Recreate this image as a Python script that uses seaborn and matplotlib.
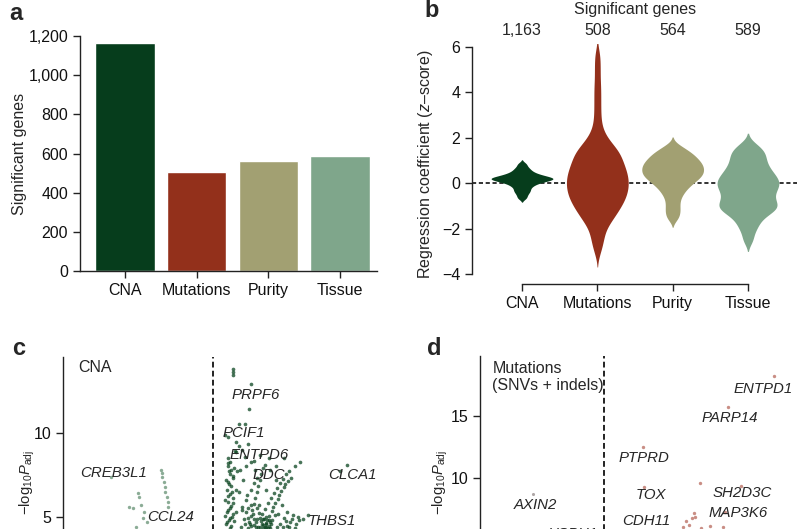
import numpy as np
import pandas as pd
import matplotlib
matplotlib.use("Agg")
import matplotlib.pyplot as plt
from matplotlib import transforms
import seaborn as sns

# ---------------- data ----------------
categories = ["CNA", "Mutations", "Purity", "Tissue"]
significant_genes = [1163, 508, 564, 589]
count_labels = ["1,163", "508", "564", "589"]
colors = ["#063D1C", "#93301B", "#A2A072", "#7FA68B"]

cna_z = [-0.65, -0.5, -0.38, -0.3, -0.2, -0.12, -0.06, 0.0, 0.04, 0.08, 0.11, 0.14,
         0.16, 0.18, 0.2, 0.22, 0.24, 0.26, 0.29, 0.32, 0.36, 0.4, 0.45, 0.52, 0.6,
         0.7, 0.85]
mut_z = [-2.95, -2.6, -2.35, -2.1, -1.85, -1.72, -1.62, -1.5, -1.4, -1.3,
         -1.22, -1.15, -1.08, -1.0, -0.93, -0.86, -0.78,
         -0.73, -0.68, -0.62, -0.56, -0.5, -0.44, -0.38, -0.32, -0.27,
         -0.22, -0.17, -0.11, -0.06, 0.0, 0.06, 0.11, 0.17, 0.22,
         0.27, 0.32, 0.38, 0.44, 0.5, 0.56, 0.62, 0.68, 0.73,
         0.78, 0.86, 0.93, 1.0, 1.08, 1.15, 1.22, 1.28,
         1.34, 1.42, 1.5, 1.58, 1.68, 1.8, 1.95, 2.15,
         2.45, 2.9, 3.4, 3.9, 4.4, 5.0, 5.6]
pur_z = [1.65, 1.5, 1.4, 1.32, 1.25, 1.18, 1.11, 1.05, 0.99, 0.94, 0.88, 0.83, 0.78,
         0.73, 0.68, 0.63, 0.58, 0.53, 0.48, 0.43, 0.38, 0.33, 0.28, 0.22, 0.16, 0.1,
         0.03, -0.05, -0.14, -0.24, -0.36, -0.5, -0.68, -0.9, -1.12, -1.32, -1.55]
tis_z = [1.7, 1.52, 1.38, 1.26, 1.14, 1.0, 0.88, 0.76, 0.65, 0.55, 0.46, 0.37, 0.29,
         0.21, 0.14, 0.07, 0.0, -0.07, -0.14, -0.21, -0.29, -0.37, -0.46, -0.55,
         -0.64, -0.73, -0.82, -0.9, -0.97, -1.04, -1.1, -1.17, -1.25, -1.35, -1.48,
         -1.65, -1.85, -2.1, -2.5]

# panel c: CNA volcano (coefficient, -log10 Padj)
c_neg_x = [-1.36, -0.69, -0.68, -0.67, -0.65, -0.64, -0.63, -0.61, -0.60, -0.59,
           -1.00, -0.99, -1.12, -1.07, -0.96, -0.92, -0.93, -1.03, -0.88]
c_neg_y = [7.38, 7.80, 7.62, 7.38, 7.08, 6.79, 6.49, 6.19, 5.89, 5.60,
           6.43, 6.19, 5.60, 5.54, 5.71, 5.30, 4.94, 4.40, 4.70]
c_pos_x = [0.21, 0.24, 0.20, 0.25, 0.23, 0.28, 0.21, 0.25, 0.19, 0.24, 0.28, 0.21,
           0.25, 0.20, 0.27, 0.23, 0.19, 0.25, 0.29, 0.31, 0.16, 0.32,
           0.37, 0.41, 0.36, 0.45, 0.40, 0.48, 0.43, 0.51,
           0.47, 0.49, 0.52, 0.53, 0.56, 0.57, 0.60, 0.61, 0.64, 0.65, 0.67, 0.51, 0.55,
           0.67, 0.71, 0.73, 0.76, 0.79, 0.81, 0.84, 0.87, 0.89, 0.92, 0.95, 0.97, 1.01,
           1.05, 0.72, 0.77, 0.83,
           0.63, 0.65, 0.68, 0.69, 0.75, 0.77, 0.61, 0.80,
           0.96, 1.04, 1.12, 1.16, 1.00, 1.08, 0.72, 0.77, 0.57, 0.85, 0.93, 0.43, 0.51,
           0.32, 0.36, 0.47, 0.32, 0.64, 0.75,
           0.27, 0.27, 0.28, 0.52, 0.49, 0.35, 0.43, 0.17, 0.21, 1.17, 0.95, 1.71, 1.80,
           1.21, 1.27,
           0.18, 0.22, 0.26, 0.19, 0.23, 0.27, 0.20, 0.26, 0.22, 0.18, 0.27, 0.22, 0.20,
           0.24, 0.29, 0.17,
           0.38, 0.42, 0.45, 0.39, 0.47, 0.50, 0.55, 0.58, 0.54, 0.59, 0.62, 0.46, 0.52,
           0.56, 0.60, 0.58, 0.60, 0.62,
           0.64, 0.66, 0.70, 0.72, 0.74, 0.78, 0.67, 0.71, 0.76, 0.66, 0.70, 0.74, 0.78,
           0.82, 0.86, 0.90, 0.94, 0.98, 1.02,
           0.86, 0.90, 0.94, 0.98, 1.02, 1.06, 1.10, 1.14, 0.88, 1.00,
           0.30, 0.40, 0.55, 0.70, 0.85, 1.10, 0.45, 0.33]
c_pos_y = [8.51, 8.27, 8.04, 7.80, 7.56, 7.32, 7.08, 6.85, 6.61, 6.37, 6.13, 5.89,
           5.65, 5.42, 5.18, 4.94, 4.70, 4.46, 7.92, 6.61, 6.01, 5.30,
           7.80, 7.20, 6.49, 6.01, 5.42, 4.94, 4.58, 5.71,
           4.35, 4.70, 5.06, 5.42, 5.77, 6.13, 6.49, 6.85, 7.20, 7.56, 7.92, 4.46, 4.88,
           4.35, 4.58, 4.82, 5.06, 5.36, 5.60, 5.83, 6.07, 6.31, 6.55, 6.79, 6.96, 7.14,
           7.32, 4.40, 4.70, 5.12,
           4.94, 4.76, 4.52, 4.88, 4.46, 4.35, 4.40, 4.82,
           4.94, 4.70, 4.58, 4.82, 4.46, 5.12, 6.61, 7.80, 7.80, 7.20, 5.71, 8.57, 8.27,
           8.87, 9.23, 9.35, 9.46, 8.69, 8.51,
           13.81, 13.63, 13.45, 12.92, 11.43, 10.54, 10.54, 9.88, 9.76, 8.27, 8.51, 7.74,
           8.10, 4.88, 5.12,
           4.60, 4.80, 5.00, 5.30, 5.55, 5.80, 6.25, 6.50, 6.95, 7.20, 7.45, 7.70, 8.20,
           4.35, 4.75, 5.05,
           4.40, 4.90, 5.30, 5.60, 5.50, 4.60, 4.50, 4.70, 5.20, 5.50, 5.70, 6.30, 6.60,
           7.00, 7.30, 4.40, 4.90, 5.25,
           4.40, 4.60, 4.40, 4.65, 4.35, 4.55, 4.90, 5.00, 4.80, 5.20, 5.45, 5.80, 6.10,
           6.40, 6.70, 7.00, 7.25, 7.55, 7.70,
           4.40, 4.60, 4.40, 4.75, 4.40, 4.90, 4.35, 5.00, 5.20, 5.30,
           8.90, 9.00, 8.30, 8.10, 8.00, 8.00, 8.00, 7.70]
c_genes = ["CREB3L1", "CCL24", "PRPF6", "PCIF1", "ENTPD6", "DDC", "CLCA1", "THBS1"]
c_gene_x = [-1.77, -0.87, 0.25, 0.13, 0.23, 0.53, 1.55, 1.27]
c_gene_y = [7.62, 5.0, 12.26, 10.0, 8.69, 7.5, 7.5, 4.76]

# panel d: Mutations volcano
d_neg_x = [-0.95]
d_neg_y = [8.71]
d_pos_x = [2.25, 1.64, 0.51, 0.53, 1.27, 1.81, 1.60, 1.19, 1.16, 1.08, 1.12, 1.28,
           1.04, 1.21, 1.41, 1.57]
d_pos_y = [18.23, 15.73, 12.50, 9.27, 9.60, 9.35, 7.26, 7.18, 6.77, 6.53, 6.21, 5.97,
           6.05, 6.85, 6.13, 6.05]
d_genes = ["ENTPD1", "PARP14", "PTPRD", "TOX", "SH2D3C", "MAP3K6", "CDH11", "AXIN2", "HSPH1"]
d_gene_x = [1.71, 1.29, 0.19, 0.41, 1.44, 1.39, 0.23, -1.20, -0.75]
d_gene_y = [17.18, 14.84, 11.61, 8.63, 8.79, 7.18, 6.53, 7.82, 5.48]

# ---------------- style ----------------
sns.set_style("ticks")
plt.rcParams["font.family"] = ["Liberation Sans", "DejaVu Sans"]
plt.rcParams["mathtext.fontset"] = "custom"
plt.rcParams["mathtext.rm"] = "Liberation Sans"
plt.rcParams["mathtext.it"] = "Liberation Sans:italic"
plt.rcParams["mathtext.bf"] = "Liberation Sans:bold"
FS = 11.5
GFS = 10.8
LFS = 10.6

fig = plt.figure(figsize=(8.0, 5.29), dpi=100)

def style_axes(ax):
    sns.despine(ax=ax)
    for s in ("left", "bottom"):
        ax.spines[s].set_linewidth(1.0)
        ax.spines[s].set_color("#222222")
    ax.tick_params(direction="out", length=5, width=1.0, labelsize=FS, colors="#222222",
                   labelcolor="#111111")

# ---------------- panel a ----------------
ax_a = fig.add_axes([0.1, 0.4877, 0.37125, 0.4442])
df_a = pd.DataFrame({"cat": categories, "n": significant_genes})
sns.barplot(data=df_a, x="cat", y="n", hue="cat", palette=colors, saturation=1,
            width=0.83, legend=False, ax=ax_a)
ax_a.set_xlim(-0.628, 3.516)
ax_a.set_ylim(0, 1200)
ax_a.set_yticks([0, 200, 400, 600, 800, 1000, 1200])
ax_a.set_yticklabels(["0", "200", "400", "600", "800", "1,000", "1,200"])
ax_a.set_xlabel("")
ax_a.set_ylabel("Significant genes", fontsize=FS)
ax_a.yaxis.set_label_coords(-0.178, 0.5)
style_axes(ax_a)

# ---------------- panel b ----------------
ax_b = fig.add_axes([0.59, 0.4631, 0.40625, 0.4544])
df_b = pd.DataFrame({
    "cat": (["CNA"] * len(cna_z) + ["Mutations"] * len(mut_z)
            + ["Purity"] * len(pur_z) + ["Tissue"] * len(tis_z)),
    "z": cna_z + mut_z + pur_z + tis_z,
})
ax_b.axhline(0, color="#111111", lw=1.2, ls=(0, (2.5, 1.6)), zorder=0)
sns.violinplot(data=df_b, x="cat", y="z", hue="cat", order=categories,
               hue_order=categories, palette=colors, saturation=1, inner=None, cut=2,
               density_norm="width", width=0.82, linewidth=0, bw_adjust=0.5,
               gridsize=300, legend=False, ax=ax_b)
for coll in ax_b.collections:
    coll.set_zorder(2)
ax_b.set_xlim(-0.664, 3.651)
ax_b.set_ylim(-4.44, 6.15)
ax_b.set_yticks([-4, -2, 0, 2, 4, 6])
ax_b.set_yticklabels(["\u22124", "\u22122", "0", "2", "4", "6"])
ax_b.set_xlabel("")
ax_b.set_ylabel("Regression coefficient ($z$\u2013score)", fontsize=FS)
ax_b.yaxis.set_label_coords(-0.114, 0.5)
style_axes(ax_b)
ax_b.spines["left"].set_bounds(-4, 6)
ax_b.spines["bottom"].set_bounds(0, 3)
trans_b = transforms.blended_transform_factory(ax_b.transData, ax_b.transAxes)
for i, lab in enumerate(count_labels):
    ax_b.text(i, 1.055, lab, transform=trans_b, ha="center", va="center", fontsize=FS)
ax_b.text(1.5, 1.142, "Significant genes", transform=trans_b, ha="center",
          va="center", fontsize=FS)

# ---------------- panel c ----------------
ax_c = fig.add_axes([0.07875, -0.1361, 0.415, 0.4612])
ax_c.axvline(0, color="#111111", lw=1.3, ls=(0, (3.2, 1.8)), zorder=0)
sns.scatterplot(x=c_neg_x, y=c_neg_y, color="#6E977C", s=6, alpha=0.8,
                linewidth=0, ax=ax_c)
sns.scatterplot(x=c_pos_x, y=c_pos_y, color="#0B4520", s=7, alpha=0.75,
                linewidth=0, ax=ax_c)
ax_c.set_xlim(-2.0, 2.44)
ax_c.set_ylim(0, 14.5)
ax_c.set_yticks([5, 10])
ax_c.set_xticks([])
ax_c.set_ylabel(r"$\mathrm{-log}_{10}P_{\mathrm{adj}}$", fontsize=LFS)
ax_c.yaxis.set_label_coords(-0.078, 0.488)
style_axes(ax_c)
ax_c.spines["bottom"].set_visible(False)
ax_c.text(-1.79, 13.87, "CNA", ha="left", va="center", fontsize=FS)
for g, gx, gy in zip(c_genes, c_gene_x, c_gene_y):
    ax_c.text(gx, gy, g, ha="left", va="center", fontsize=GFS, style="italic")

# ---------------- panel d ----------------
ax_d = fig.add_axes([0.6, -0.138, 0.39625, 0.465])
ax_d.axvline(0, color="#111111", lw=1.3, ls=(0, (3.2, 1.8)), zorder=0)
sns.scatterplot(x=d_neg_x, y=d_neg_y, color="#9A9090", s=5, alpha=0.8,
                linewidth=0, ax=ax_d)
sns.scatterplot(x=d_pos_x, y=d_pos_y, color="#B8685C", s=6, alpha=0.75,
                linewidth=0, ax=ax_d)
ax_d.set_xlim(-1.653, 2.56)
ax_d.set_ylim(0, 19.84)
ax_d.set_yticks([10, 15])
ax_d.set_xticks([])
ax_d.set_ylabel(r"$\mathrm{-log}_{10}P_{\mathrm{adj}}$", fontsize=LFS)
ax_d.yaxis.set_label_coords(-0.095, 0.485)
style_axes(ax_d)
ax_d.spines["bottom"].set_visible(False)
ax_d.text(-1.49, 18.15, "Mutations\n(SNVs + indels)", ha="left", va="center",
          fontsize=FS, linespacing=1.15)
for g, gx, gy in zip(d_genes, d_gene_x, d_gene_y):
    ax_d.text(gx, gy, g, ha="left", va="center", fontsize=GFS, style="italic")

# ---------------- panel letters ----------------
for letter, x, y in [("a", 0.011, 0.962), ("b", 0.531, 0.968),
                     ("c", 0.015, 0.329), ("d", 0.534, 0.329)]:
    fig.text(x, y, letter, fontsize=17, fontweight="bold", ha="left", va="baseline")

fig.savefig("out.png", dpi=100)
